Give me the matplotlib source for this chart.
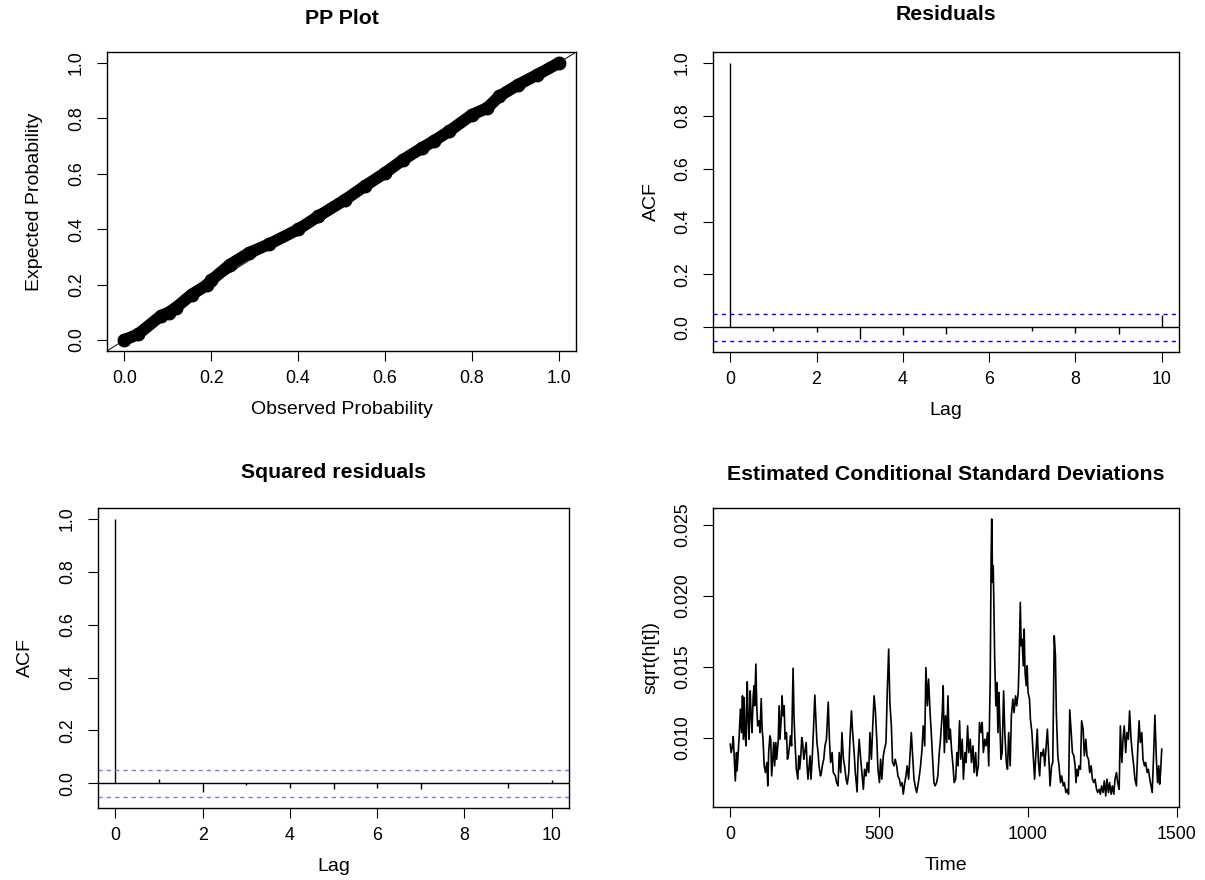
import matplotlib
matplotlib.use("Agg")
import matplotlib.pyplot as plt
import numpy as np

plt.rcParams["font.family"] = ["Liberation Sans", "DejaVu Sans"]

# PP plot (observed vs expected probability)
ppObserved = [0.0, 0.031, 0.084, 0.102, 0.119, 0.155, 0.19, 0.20, 0.243, 0.288, 0.332, 0.40,
              0.447, 0.509, 0.553, 0.60, 0.642, 0.686, 0.712, 0.748, 0.80, 0.836, 0.863,
              0.907, 0.951, 1.0]
ppExpected = [0.0, 0.020, 0.087, 0.099, 0.117, 0.164, 0.198, 0.215, 0.272, 0.315, 0.345, 0.399,
              0.447, 0.507, 0.555, 0.603, 0.651, 0.694, 0.718, 0.754, 0.813, 0.838, 0.880,
              0.922, 0.958, 1.0]

# ACF of residuals and squared residuals, lags 0..10
lags = list(range(11))
acfResid = [1.0, -0.015, -0.016, -0.045, -0.030, -0.025, 0.002, -0.015, -0.022, -0.025, 0.045]
acfSquared = [1.0, 0.018, -0.034, -0.006, -0.018, -0.022, -0.016, -0.020, 0.001, -0.016, 0.012]
nObs = 1450

# estimated conditional standard deviation (x1e-3), time index
sdTime = [1, 4, 8, 11, 15, 18, 22, 24, 27, 31, 35, 39, 42, 45, 48, 51, 54, 58, 61, 64, 68, 71,
          74, 78, 81, 83, 87, 90, 93, 98, 101, 105, 108, 111, 115, 119, 124, 127, 130, 134,
          137, 140, 144, 147, 150, 154, 157, 162, 165, 168, 172, 175, 178, 182, 185, 190, 193,
          196, 200, 203, 207, 212, 215, 219, 223, 228, 231, 234, 238, 241, 244, 248, 251, 256,
          259, 262, 266, 269, 272, 276, 280, 285, 288, 292, 296, 299, 304, 307, 310, 315, 319,
          324, 330, 334, 338, 343, 347, 354, 358, 363, 367, 372, 376, 381, 385, 390, 394, 399,
          403, 408, 412, 417, 421, 427, 430, 434, 439, 443, 448, 452, 457, 461, 466, 470, 475,
          479, 484, 488, 493, 497, 502, 506, 510, 515, 519, 524, 528, 533, 537, 542, 546, 551,
          555, 560, 564, 569, 573, 578, 582, 587, 591, 595, 600, 604, 609, 613, 618, 622, 627,
          631, 636, 640, 645, 649, 654, 658, 663, 667, 672, 676, 680, 685, 689, 694, 698, 703,
          707, 710, 713, 716, 720, 724, 728, 732, 736, 740, 744, 749, 753, 758, 762, 766, 771, 775,
          780, 784, 789, 793, 798, 802, 807, 811, 816, 820, 825, 829, 834, 838, 843, 847, 851,
          856, 860, 865, 869, 874, 877, 879, 882, 884, 886, 889, 893, 896, 900, 903, 906, 910,
          914, 919, 923, 928, 932, 936, 941, 945, 950, 954, 959, 963, 968, 971, 975, 978, 981,
          985, 988, 991, 995, 998, 1001, 1006, 1009, 1014, 1018, 1023, 1027, 1032, 1036, 1040,
          1044, 1048, 1053, 1057, 1062, 1066, 1071, 1075, 1080, 1084, 1089, 1093, 1096, 1101,
          1105, 1110, 1114, 1119, 1123, 1128, 1132, 1137, 1141, 1146, 1150, 1155, 1159, 1162,
          1166, 1169, 1172, 1177, 1181, 1186, 1190, 1195, 1199, 1204, 1208, 1213, 1217, 1222,
          1226, 1231, 1235, 1240, 1244, 1248, 1253, 1257, 1262, 1266, 1271, 1275, 1280, 1284,
          1289, 1293, 1298, 1302, 1307, 1311, 1316, 1320, 1324, 1329, 1333, 1338, 1342, 1347,
          1351, 1356, 1360, 1365, 1369, 1374, 1378, 1383, 1387, 1392, 1396, 1401, 1405, 1410,
          1414, 1418, 1423, 1427, 1432, 1436, 1440, 1443, 1446, 1450]
sdValue = [9.53, 8.94, 9.36, 10.07, 8.24, 6.94, 8.94, 7.65, 8.71, 10.12, 12.00, 10.35, 12.94,
           9.88, 12.82, 10.12, 9.41, 13.93, 11.29, 9.88, 13.29, 11.53, 10.35, 12.94, 13.65,
           12.24, 15.18, 12.24, 10.82, 11.18, 10.35, 12.75, 10.59, 9.88, 8.00, 7.53, 8.24, 6.59,
           8.94, 10.12, 9.88, 7.29, 8.71, 9.65, 8.00, 9.65, 8.47, 9.76, 12.24, 9.88, 11.29,
           12.94, 11.53, 12.24, 9.88, 10.35, 8.47, 8.71, 9.41, 10.12, 9.41, 14.89, 11.53, 9.41,
           7.76, 7.06, 8.71, 7.76, 8.71, 10.00, 9.65, 8.47, 8.94, 9.65, 8.00, 7.06, 8.00, 8.71,
           7.06, 8.47, 10.35, 12.99, 11.53, 9.65, 8.94, 8.00, 7.29, 7.53, 8.00, 8.47, 9.41, 9.88,
           12.50, 9.88, 8.24, 8.94, 7.53, 7.29, 6.82, 6.59, 8.94, 7.53, 10.35, 8.47, 8.00, 7.06,
           6.71, 7.53, 9.88, 11.88, 10.35, 8.94, 7.53, 6.16, 8.47, 9.88, 8.47, 7.53, 6.35, 7.76,
           7.29, 8.24, 7.53, 10.35, 8.47, 10.59, 12.94, 12.00, 9.88, 7.76, 6.82, 8.47, 7.06,
           8.71, 9.18, 9.65, 13.06, 16.24, 12.47, 10.82, 8.24, 8.00, 8.47, 8.00, 7.29, 7.06,
           6.59, 6.82, 6.00, 6.82, 7.29, 8.00, 7.06, 8.47, 10.35, 8.94, 7.06, 6.59, 6.12, 6.59,
           7.29, 8.00, 9.18, 10.82, 9.41, 14.94, 12.24, 14.12, 11.76, 10.35, 8.71, 6.82, 6.59,
           6.82, 7.29, 8.94, 9.88, 10.82, 11.76, 13.65, 8.94, 11.53, 9.65, 12.94, 9.88, 10.59,
           9.18, 8.00, 6.82, 7.06, 8.94, 8.00, 11.18, 8.47, 9.88, 7.06, 8.94, 8.24, 10.82, 8.94,
           9.88, 8.24, 9.41, 7.53, 8.94, 7.29, 8.00, 11.06, 10.35, 11.06, 8.94, 9.88, 9.41,
           10.35, 8.00, 14.12, 22.59, 25.41, 20.94, 22.12, 19.76, 15.53, 12.24, 13.88, 10.35,
           13.18, 11.29, 8.47, 8.94, 13.29, 10.35, 8.24, 7.76, 10.35, 8.00, 11.53, 12.71, 11.76,
           12.94, 12.24, 13.18, 15.29, 19.53, 16.47, 16.94, 15.06, 17.65, 14.59, 13.65, 15.06,
           13.18, 12.71, 11.29, 10.35, 8.94, 7.06, 8.71, 10.59, 8.24, 7.29, 8.94, 8.71, 9.18,
           8.00, 9.41, 10.59, 8.47, 6.59, 8.00, 8.24, 17.18, 15.76, 11.76, 8.71, 8.00, 6.82,
           7.29, 6.59, 6.82, 6.12, 6.35, 6.00, 11.95, 10.35, 8.94, 8.71, 8.00, 6.82, 7.76, 7.29,
           8.00, 7.76, 11.18, 10.59, 8.71, 9.88, 8.71, 8.47, 7.53, 8.00, 7.06, 6.82, 7.06, 6.35,
           6.12, 6.35, 6.00, 6.59, 6.12, 6.94, 5.88, 7.06, 6.12, 6.82, 6.00, 6.59, 6.00, 7.06,
           7.53, 6.82, 6.35, 10.82, 8.24, 9.88, 10.82, 8.94, 10.35, 9.88, 11.88, 9.88, 8.94,
           8.00, 7.06, 6.59, 8.94, 11.18, 9.65, 10.35, 8.47, 8.00, 8.24, 7.53, 7.76, 7.06, 6.59,
           6.12, 8.94, 11.58, 8.47, 6.82, 8.00, 6.71, 7.53, 9.18]

W, H = 1205, 880
fig = plt.figure(figsize=(W / 100, H / 100), dpi=100)


def addPanel(left, top, right, bottom):
    return fig.add_axes([left / W, 1 - bottom / H, (right - left) / W, (bottom - top) / H])


def rRange(lo, hi):
    d = (hi - lo) * 0.04
    return lo - d, hi + d


def styleAxis(ax, xticks, yticks, yfmt):
    for s in ax.spines.values():
        s.set_linewidth(1.0)
    ax.set_xticks(xticks)
    ax.set_yticks(yticks)
    ax.set_yticklabels([yfmt.format(v) for v in yticks], rotation=90, va="center")
    ax.tick_params(length=7, width=0.8, labelsize=12.8)
    ax.tick_params(axis="x", pad=7)
    ax.tick_params(axis="y", pad=9)


def panelTitle(ax, left, right, y, text):
    fig.text((left + right) / 2 / W, 1 - y / H, text, ha="center", va="center",
             fontsize=15.3, fontweight="bold")


# PP plot
ppBox = (107, 52, 576, 351)
axPP = addPanel(*ppBox)
axPP.plot(ppObserved, ppExpected, "-o", color="black", lw=8.5, ms=9,
          solid_capstyle="round", solid_joinstyle="round")
axPP.axline((0, 0), slope=1, color="black", lw=0.7)
axPP.set_xlim(*rRange(0, 1))
axPP.set_ylim(*rRange(0, 1))
styleAxis(axPP, [0, 0.2, 0.4, 0.6, 0.8, 1.0], [0, 0.2, 0.4, 0.6, 0.8, 1.0], "{:.1f}")
axPP.set_xticklabels(["0.0", "0.2", "0.4", "0.6", "0.8", "1.0"])
axPP.set_xlabel("Observed Probability", fontsize=14, labelpad=10)
axPP.set_ylabel("Expected Probability", fontsize=14, labelpad=18)
panelTitle(axPP, ppBox[0], ppBox[2], 18, "PP Plot")

clim = 1.96 / np.sqrt(nObs)


def acfPanel(box, values, dashColor, title, titleY, ylabPad):
    ax = addPanel(*box)
    ax.vlines(lags, 0, values, color="black", lw=1.0)
    ax.axhline(0, color="black", lw=1.0)
    ax.axhline(clim, color=dashColor, lw=1.0, linestyle=(0, (3, 3)))
    ax.axhline(-clim, color=dashColor, lw=1.0, linestyle=(0, (3, 3)))
    ax.set_xlim(*rRange(0, 10))
    ax.set_ylim(*rRange(min(-clim, min(values)), max(clim, max(values))))
    styleAxis(ax, [0, 2, 4, 6, 8, 10], [0, 0.2, 0.4, 0.6, 0.8, 1.0], "{:.1f}")
    ax.set_xlabel("Lag", fontsize=14, labelpad=10)
    ax.set_ylabel("ACF", fontsize=14, labelpad=ylabPad)
    panelTitle(ax, box[0], box[2], titleY, title)
    return ax


resBox = (713, 52, 1179, 352)
acfPanel(resBox, acfResid, "blue", "Residuals", 14, 10)

sqBox = (98, 508, 569, 808)
acfPanel(sqBox, acfSquared, "#7878f0", "Squared residuals", 472, 18)

# conditional standard deviation
sdBox = (713, 508, 1179, 807)
axSD = addPanel(*sdBox)
sdVals = np.array(sdValue) / 1000
axSD.plot(sdTime, sdVals, color="black", lw=1.2)
axSD.set_xlim(*rRange(1, nObs))
axSD.set_ylim(*rRange(sdVals.min(), sdVals.max()))
styleAxis(axSD, [0, 500, 1000, 1500], [0.010, 0.015, 0.020, 0.025], "{:.3f}")
axSD.set_xlabel("Time", fontsize=14, labelpad=10)
axSD.set_ylabel("sqrt(h[t])", fontsize=14, labelpad=10)
panelTitle(axSD, sdBox[0], sdBox[2], 474, "Estimated Conditional Standard Deviations")

fig.savefig("out.png", dpi=100)
